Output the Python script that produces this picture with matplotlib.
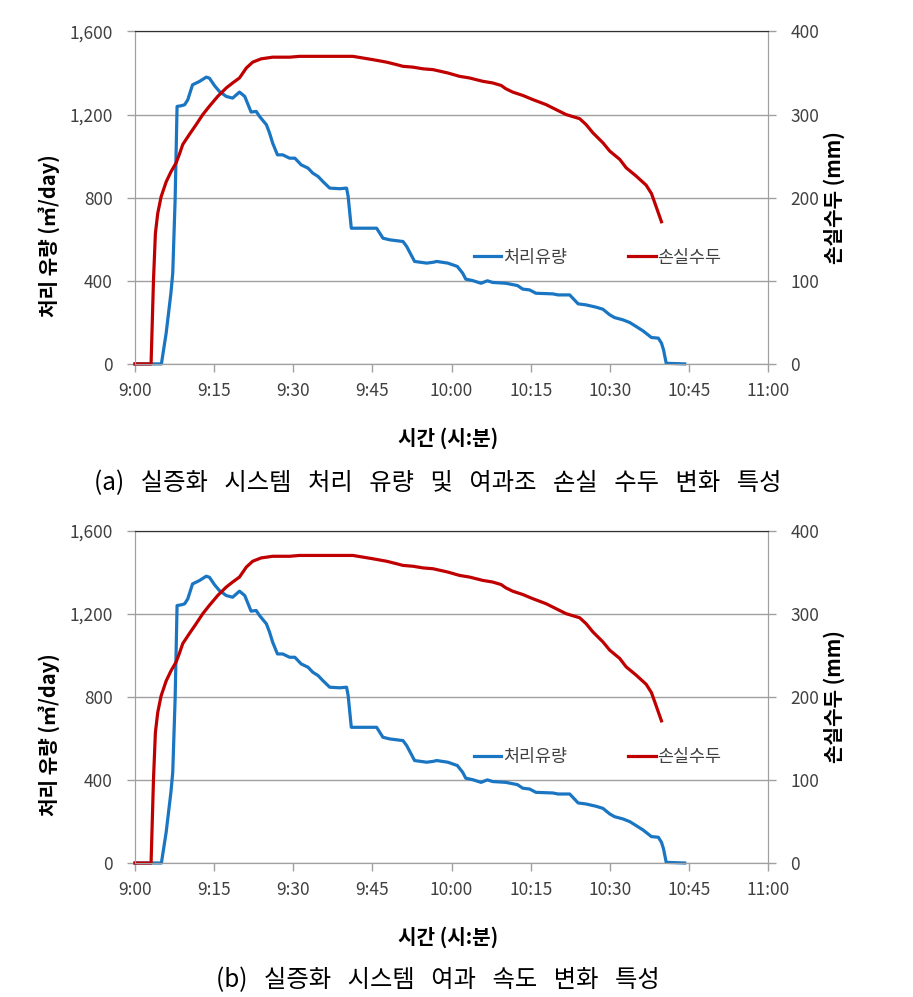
import matplotlib
matplotlib.use("Agg")
import matplotlib.pyplot as plt

plt.rcParams['font.family'] = ['Noto Sans CJK KR', 'DejaVu Sans']

# minutes after 9:00
flow_t = [0, 5.0, 5.9, 6.8, 7.15, 7.6, 7.97, 8.7, 9.4, 10.0, 10.9, 12.2, 13.5, 14.1,
          15.1, 16.0, 17.3, 18.5, 19.8, 20.8, 22.0, 22.97, 23.6, 24.9, 25.5, 26.1,
          27.0, 28.0, 29.3, 30.3, 31.5, 32.8, 33.7, 34.7, 35.6, 36.9, 38.8, 40.1,
          40.4, 41.0, 42.6, 45.8, 47.0, 48.3, 50.8, 51.5, 53.0, 55.3, 56.5, 57.2,
          59.3, 61.1, 62.1, 62.7, 64.0, 65.6, 66.8, 67.8, 70.3, 72.5, 73.5, 74.8,
          76.0, 79.2, 80.2, 82.4, 83.0, 84.0, 85.5, 87.4, 88.7, 90.0, 90.9, 92.5,
          93.8, 95.0, 96.3, 97.9, 99.2, 99.8, 100.2, 100.7, 104.2]
flow_v = [0, 0, 148, 340, 437, 790, 1239, 1242, 1247, 1271, 1343, 1359, 1380, 1375,
          1338, 1311, 1287, 1279, 1308, 1287, 1212, 1215, 1191, 1151, 1111, 1062,
          1006, 1006, 990, 990, 958, 942, 918, 902, 878, 846, 843, 846,
          806, 653, 653, 653, 605, 597, 589, 565, 493, 485, 489, 493,
          485, 469, 437, 408, 401, 388, 400, 392, 388, 377, 360, 356,
          340, 337, 332, 332, 316, 289, 284, 273, 263, 236, 223, 212,
          199, 180, 159, 127, 124, 100, 67, 3, 0]

head_t = [0, 3.04, 3.5, 3.86, 4.3, 4.94, 5.9, 6.8, 7.8, 8.4, 9.05, 10.3, 11.6, 12.85,
          14.1, 15.7, 17.3, 18.5, 19.8, 21.1, 22.3, 23.9, 26.1, 29.3, 31.2, 37.5,
          41.3, 43.2, 45.1, 47.7, 49.6, 50.8, 52.7, 54.6, 56.5, 59.3, 61.5, 63.4,
          65.9, 67.8, 69.4, 70.3, 71.6, 73.5, 75.4, 77.9, 79.8, 81.7, 84.3, 85.5,
          86.8, 88.7, 90.0, 91.9, 93.1, 95.0, 96.9, 97.9, 98.8, 99.8]
head_v = [0, 0, 101, 157, 181, 201, 219, 231, 242, 252, 264, 276, 288, 300,
          310, 322, 332, 338, 344, 356, 363, 367, 369, 369, 370, 370,
          370, 368, 366, 363, 360, 358, 357, 355, 354, 350, 346, 344,
          340, 338, 335, 331, 327, 323, 318, 312, 306, 300, 295, 288,
          278, 266, 256, 246, 236, 226, 215, 205, 189, 171]

x_ticks = [0, 15, 30, 45, 60, 75, 90, 105, 120]
x_labels = ['9:00', '9:15', '9:30', '9:45', '10:00', '10:15', '10:30', '10:45', '11:00']
left_ticks = [0, 400, 800, 1200, 1600]
right_ticks = [0, 100, 200, 300, 400]

captions = ['(a) 실증화 시스템 처리 유량 및 여과조 손실 수두 변화 특성',
            '(b) 실증화 시스템 여과 속도 변화 특성']

blue = '#1a75c2'
red = '#c00000'
gray = '#a0a0a0'
txt = '#404040'

fig = plt.figure(figsize=(9.13, 9.97), dpi=100)


def draw(bottom, caption, cap_y):
    ax = fig.add_axes([0.1479, bottom, 0.6933, 0.3335])
    ax2 = ax.twinx()

    l1, = ax.plot(flow_t, flow_v, color=blue, lw=2.3, clip_on=False)
    l2, = ax2.plot(head_t, head_v, color=red, lw=2.3, clip_on=False)

    ax.set_xlim(0, 120)
    ax.set_ylim(0, 1600)
    ax2.set_ylim(0, 400)
    ax.set_xticks(x_ticks)
    ax.set_xticklabels(x_labels)
    ax.set_yticks(left_ticks)
    ax.set_yticklabels(['{:,}'.format(v) for v in left_ticks])
    ax2.set_yticks(right_ticks)

    ax.grid(axis='y', color=gray, lw=1)
    ax.set_axisbelow(True)

    for a in (ax, ax2):
        for s in ('left', 'right', 'bottom'):
            a.spines[s].set_color(gray)
        a.spines['top'].set_color('#303030')
        a.tick_params(colors=gray, labelcolor=txt, labelsize=12.5, length=6, width=1)
    ax.tick_params(axis='x', pad=7)
    ax.tick_params(axis='y', pad=10)
    ax2.tick_params(axis='y', pad=10)

    ax.set_xlabel('시간 (시:분)', fontsize=14.5, fontweight='bold')
    ax.xaxis.set_label_coords(0.494, -0.19)
    ax.set_ylabel('처리 유량 (㎥/day)', fontsize=14.5, fontweight='bold')
    ax.yaxis.set_label_coords(-0.118, 0.385)
    ax2.set_ylabel('손실수두 (mm)', fontsize=14.5, fontweight='bold')
    ax2.yaxis.set_label_coords(1.087, 0.5)

    ax2.legend([l1, l2], ['처리유량', '손실수두'], loc='center left',
               bbox_to_anchor=(0.535, 0.32), frameon=False, ncol=2,
               fontsize=12.5, labelcolor=txt, handlelength=1.6, handletextpad=0.1,
               columnspacing=3.5, borderpad=0, borderaxespad=0)

    # the printed caption uses wide word spacing
    fig.text(0.48, cap_y, caption.replace(' ', '   '), ha='center', va='center',
             fontsize=17.5)


draw(0.635, captions[0], 1 - 483 / 997)
draw(0.1344, captions[1], 1 - 980 / 997)

fig.savefig('out.png', dpi=100)
